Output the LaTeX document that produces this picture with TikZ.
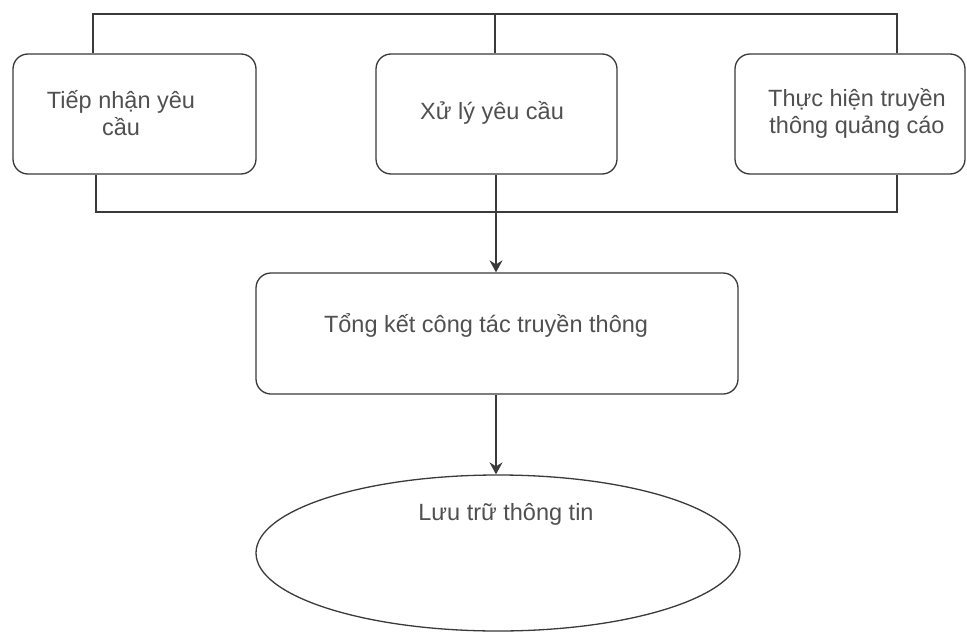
\documentclass[tikz,border=0pt]{standalone}
\usepackage{fontspec}
\setmainfont{Liberation Sans}
\usetikzlibrary{arrows.meta,shapes.geometric}
\definecolor{linec}{HTML}{3A3A3A}
\definecolor{textc}{HTML}{505050}
\begin{document}
\begin{tikzpicture}[x=1pt,y=-1pt,
  box/.style={draw=linec,line width=1.3pt,rounded corners=15pt,inner sep=0pt},
  lbl/.style={text=textc,align=center,font=\fontsize{23.5}{27}\selectfont,inner sep=0pt},
  wire/.style={draw=linec,line width=1.3pt},
  arr/.style={wire,-{Stealth[length=12pt,width=13pt,inset=4pt]}}]
\useasboundingbox[fill=white] (0,0) rectangle (967,632);
% boxes
\node[box,minimum width=243pt,minimum height=120pt] (b1) at (134.5,114) {};
\node[box,minimum width=241pt,minimum height=120pt] (b2) at (496.5,114) {};
\node[box,minimum width=230pt,minimum height=120pt] (b3) at (850,114) {};
\node[box,minimum width=482pt,minimum height=121pt] (b4) at (497,333.5) {};
\node[draw=linec,line width=1.3pt,ellipse,minimum width=484pt,minimum height=156pt,inner sep=0pt] (e) at (498,553) {};
% labels
\node[lbl] (t1) at (121,113) {Tiếp nhận yêu\\cầu};
\node[lbl] (t2) at (492,113) {Xử lý yêu cầu};
\node[lbl] (t3) at (857,113) {Thực hiện truyền\\thông quảng cáo};
\node[lbl] (t4) at (486,325) {Tổng kết công tác truyền thông};
\node[lbl] (t5) at (506,514) {Lưu trữ thông tin};
% frame coordinates
\coordinate (tl) at (93,14);
\coordinate (tc) at (495,14);
\coordinate (tr) at (897,14);
\coordinate (bl) at (96,212);
\coordinate (bc) at (496,212);
\coordinate (br) at (897,212);
% top bracket
\draw[wire] (b1.north -| tl) -- (tl) -- (tr) -- (b3.north -| tr);
\draw[wire] (tc) -- (b2.north -| tc);
% bottom bracket
\draw[wire] (b1.south -| bl) -- (bl) -- (br) -- (b3.south -| br);
\draw[wire] (b2.south -| bc) -- (bc);
% arrows
\draw[arr] (bc) -- (b4.north -| bc);
\draw[arr] (b4.south -| bc) -- (e.north -| bc);
\end{tikzpicture}
\end{document}
